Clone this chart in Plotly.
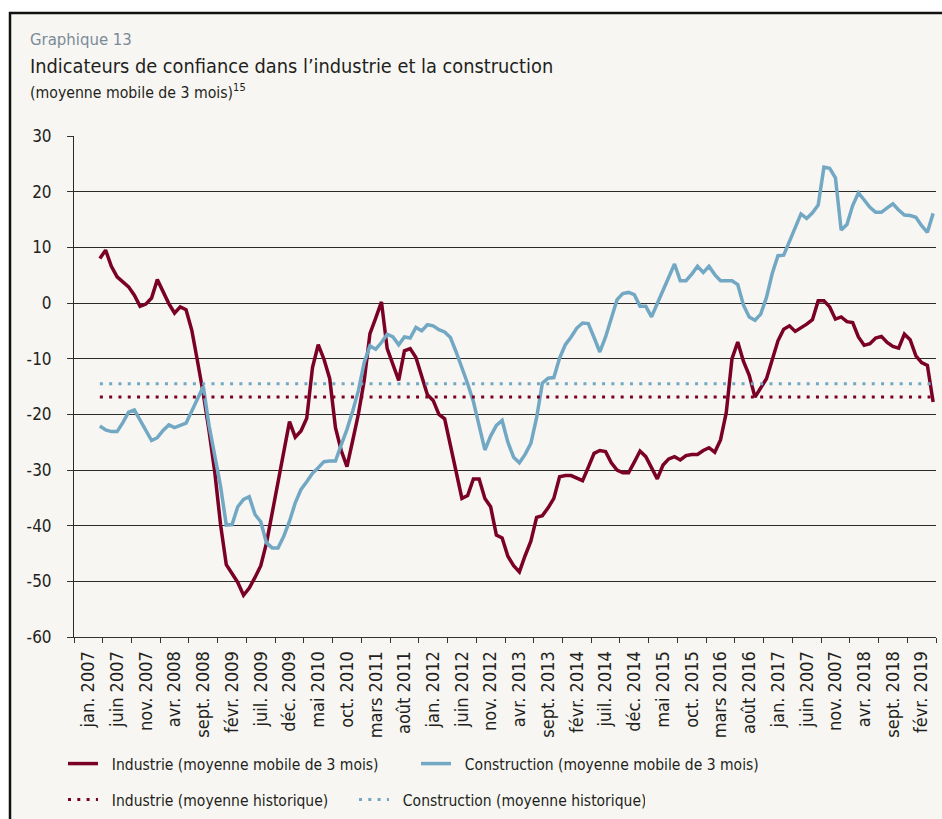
import plotly.graph_objects as go

# ---------------- data ----------------
tick_labels = ["jan. 2007", "juin 2007", "nov. 2007", "avr. 2008", "sept. 2008", "févr. 2009",
               "juil. 2009", "déc. 2009", "mai 2010", "oct. 2010", "mars 2011", "août 2011",
               "jan. 2012", "juin 2012", "nov. 2012", "avr. 2013", "sept. 2013", "févr. 2014",
               "juil. 2014", "déc. 2014", "mai 2015", "oct. 2015", "mars 2016", "août 2016",
               "jan. 2017", "juin 2007", "nov. 2007", "avr. 2018", "sept. 2018", "févr. 2019"]

y_ticks = [30, 20, 10, 0, -10, -20, -30, -40, -50, -60]
y_tick_text = ["30", "20", "10", "0", "-10", "-20", "-30", "-40", "-50", "-60"]

# month index: 0 = jan. 2007 ... 149 = juin 2019 ; series start at index 4
first_month = 4
last_month = 149

industrie = [8.0, 9.5, 6.6, 4.7, 3.8, 2.9, 1.4, -0.6, -0.2, 0.9,
             4.2, 2.1, -0.1, -1.8, -0.7, -1.2, -4.9, -10.5, -16.3, -23.0,
             -30.4, -39.8, -47.0, -48.6, -50.2, -52.5, -51.2, -49.3, -47.2, -43.1,
             -37.5, -32.0, -26.9, -21.3, -24.1, -23.0, -20.7, -11.6, -7.5, -10.1,
             -13.6, -22.4, -26.5, -29.4, -24.7, -19.9, -13.9, -5.5, -2.7, 0.2,
             -8.2, -11.0, -13.9, -8.6, -8.2, -9.8, -13.1, -16.5, -17.5, -20.0,
             -20.8, -25.6, -30.5, -35.1, -34.6, -31.6, -31.6, -35.1, -36.6, -41.7,
             -42.2, -45.5, -47.2, -48.3, -45.4, -42.8, -38.5, -38.2, -36.8, -35.1,
             -31.2, -31.0, -31.0, -31.5, -31.9, -29.5, -27.0, -26.5, -26.7, -28.7,
             -30.0, -30.5, -30.5, -28.6, -26.6, -27.6, -29.7, -31.6, -29.1, -28.0,
             -27.6, -28.2, -27.4, -27.2, -27.2, -26.5, -26.0, -26.8, -24.6, -19.7,
             -10.0, -7.0, -10.5, -13.0, -16.9, -15.2, -13.6, -10.2, -6.8, -4.7,
             -4.1, -5.1, -4.5, -3.8, -3.0, 0.4, 0.4, -0.7, -2.9, -2.5,
             -3.35, -3.5, -6.1, -7.6, -7.3, -6.3, -6.0, -7.1, -7.8, -8.1,
             -5.6, -6.6, -9.5, -10.7, -11.2, -17.8]

construction = [-22.1, -22.8, -23.1, -23.1, -21.5, -19.6, -19.2, -21.0, -22.9, -24.7,
                -24.2, -22.9, -21.9, -22.4, -22.0, -21.6, -19.4, -17.1, -15.0, -22.0,
                -27.4, -32.9, -39.9, -39.8, -36.6, -35.3, -34.8, -38.0, -39.3, -43.1,
                -44.0, -44.0, -41.9, -39.2, -35.9, -33.5, -32.1, -30.6, -29.6, -28.5,
                -28.4, -28.4, -25.5, -22.7, -19.4, -15.7, -10.7, -7.7, -8.3, -7.1,
                -5.6, -6.1, -7.5, -6.1, -6.3, -4.4, -5.0, -3.9, -4.1, -4.8,
                -5.2, -6.2, -8.8, -11.6, -14.5, -17.7, -22.0, -26.4, -23.9, -22.0,
                -21.1, -25.0, -27.7, -28.7, -27.2, -25.2, -20.6, -14.4, -13.5, -13.4,
                -9.9, -7.5, -6.1, -4.5, -3.6, -3.7, -6.2, -8.8, -6.1, -2.9,
                0.6, 1.7, 1.9, 1.5, -0.6, -0.6, -2.5, -0.1, 2.4, 4.9,
                7.0, 4.0, 4.0, 5.2, 6.6, 5.5, 6.6, 5.1, 4.0, 4.0,
                4.0, 3.3, -0.4, -2.5, -3.1, -2.0, 1.0, 5.3, 8.5, 8.6,
                11.0, 13.6, 16.0, 15.2, 16.2, 17.6, 24.4, 24.2, 22.5, 13.1,
                14.1, 17.5, 19.8, 18.5, 17.2, 16.3, 16.3, 17.1, 17.8, 16.7,
                15.8, 15.7, 15.4, 13.9, 12.7, 16.1]

industrie_moy_hist = -16.9
construction_moy_hist = -14.5

# ---------------- styling ----------------
RED = "#7b0026"
BLUE = "#72a8c4"
FONT = "Liberation Sans Narrow, DejaVu Sans Condensed, Arial Narrow, sans-serif"
TXT = "#231f20"
SP = "\u00a0\u00a0"

months = list(range(first_month, last_month + 1))
n_months = 150
period = 5

fig = go.Figure()
fig.add_trace(go.Scatter(x=months, y=industrie, mode="lines", name=SP + "Industrie (moyenne mobile de 3 mois)",
                         line=dict(color=RED, width=3.5), legend="legend"))
fig.add_trace(go.Scatter(x=months, y=construction, mode="lines",
                         name=SP + "Construction (moyenne mobile de 3 mois)",
                         line=dict(color=BLUE, width=3.5), legend="legend"))
fig.add_trace(go.Scatter(x=[months[0], months[-1]], y=[industrie_moy_hist] * 2, mode="lines",
                         name=SP + "Industrie (moyenne historique)",
                         line=dict(color=RED, width=3, dash="3px,6.3px"), legend="legend2"))
fig.add_trace(go.Scatter(x=[months[0], months[-1]], y=[construction_moy_hist] * 2, mode="lines",
                         name=SP + "Construction (moyenne historique)",
                         line=dict(color=BLUE, width=3, dash="3px,6.3px"), legend="legend2"))

# plot area pixel geometry (for placing frame/texts)
L, R, T, B = 74, 936, 136, 637
W, H = 942, 819


def px(xp):
    return (xp - L) / (R - L)


def py(yp):
    return (B - yp) / (B - T)


label_pos = [period * k + 2 for k in range(len(tick_labels))]
boundaries = [period * k - 0.5 for k in range(len(tick_labels) + 1)]

fig.update_layout(
    width=W, height=H,
    margin=dict(l=L, r=W - R, t=T, b=H - B, autoexpand=False),
    paper_bgcolor="white",
    plot_bgcolor="rgba(0,0,0,0)",
    font=dict(family=FONT, color=TXT),
    xaxis=dict(
        range=[-0.5, n_months - 0.5], automargin=False,
        tickmode="array", tickvals=label_pos, ticktext=tick_labels,
        tickangle=-90, ticks="", ticklen=0, ticklabelstandoff=6,
        tickfont=dict(size=18, color=TXT, family=FONT),
        showgrid=False, zeroline=False,
        showline=True, linecolor="#333333", linewidth=1,
        minor=dict(tickmode="array", tickvals=boundaries, ticks="outside", ticklen=5,
                   tickcolor="#333333", tickwidth=1, showgrid=False),
    ),
    yaxis=dict(
        range=[-60, 30], tickmode="array", tickvals=y_ticks, ticktext=y_tick_text, automargin=False,
        ticks="outside", ticklen=6, tickcolor="#333333", ticklabelstandoff=12,
        tickfont=dict(size=17, color=TXT, family=FONT),
        showgrid=True, gridcolor="#2a2a2a", gridwidth=1,
        zeroline=False, showline=True, linecolor="#2a2a2a", linewidth=1,
    ),
    legend=dict(orientation="h", x=px(63), y=py(764), xanchor="left", yanchor="middle",
                font=dict(size=15.5, color=TXT, family=FONT), bgcolor="rgba(0,0,0,0)",
                entrywidth=308, entrywidthmode="pixels", tracegroupgap=0),
    legend2=dict(orientation="h", x=px(63), y=py(800), xanchor="left", yanchor="middle",
                 font=dict(size=15.5, color=TXT, family=FONT), bgcolor="rgba(0,0,0,0)",
                 entrywidth=246, entrywidthmode="pixels", tracegroupgap=0),
    shapes=[dict(type="rect", xref="paper", yref="paper",
                 x0=px(10), x1=px(960), y0=py(840), y1=py(13),
                 fillcolor="#f7f6f2", line=dict(color="#111111", width=2.5), layer="below")],
    annotations=[
        dict(text="Graphique 13", xref="paper", yref="paper", x=px(28), y=py(39),
             xanchor="left", yanchor="middle", showarrow=False,
             font=dict(size=16.6, color="#7b8a98", family=FONT)),
        dict(text="Indicateurs de confiance dans l’industrie et la construction", xref="paper", yref="paper",
             x=px(28), y=py(66), xanchor="left", yanchor="middle", showarrow=False,
             font=dict(size=19.8, color=TXT, family=FONT)),
        dict(text="(moyenne mobile de 3 mois)<sup>15</sup>", xref="paper", yref="paper",
             x=px(28), y=py(91), xanchor="left", yanchor="middle", showarrow=False,
             font=dict(size=15.7, color=TXT, family=FONT)),
    ],
)

fig.write_html("out.html", config={"displayModeBar": False},
               post_script="document.body.style.margin='0px';")
